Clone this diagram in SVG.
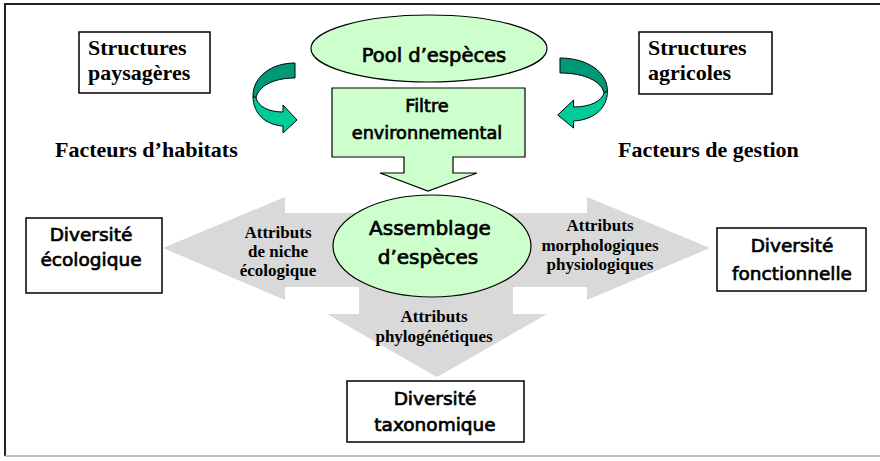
<svg xmlns="http://www.w3.org/2000/svg" width="880" height="461" viewBox="0 0 880 461">
<style>
.box{fill:#fff;stroke:#000;stroke-width:1.5}
.green{fill:#ccffcc;stroke:#000;stroke-width:1.2}
.cs{font-family:"DejaVu Sans","Noto Sans",sans-serif;fill:#000;stroke:#000;stroke-width:0.7;text-anchor:middle}
.tb{font-family:"Liberation Serif","Times New Roman",serif;font-weight:bold;fill:#000}
.lab{font-size:17px;text-anchor:middle}
.big{font-size:22px}
.dark{fill:#009977;stroke:#000;stroke-width:1}
.light{fill:#00cc99;stroke:#000;stroke-width:1}
</style>
<defs>
<g id="curl">
<path class="dark" d="M295,63 C271,63 253,77 253,96 L256,98 C258,87 272,78 295,78 Z" vector-effect="non-scaling-stroke"/>
<path class="light" d="M253,96 C253,114 266,125 283,126 L283,133 L297,120 L283,105 L283,112 C268,112 258,106 256,98 Z" vector-effect="non-scaling-stroke"/>
</g>
</defs>
<rect x="0" y="0" width="880" height="461" fill="#fff"/>
<g id="frame">
<line x1="4" y1="4" x2="880" y2="4" stroke="#222" stroke-width="2"/>
<line x1="5" y1="4" x2="5" y2="456" stroke="#222" stroke-width="2"/>
<line x1="5" y1="456" x2="880" y2="456" stroke="#aaa" stroke-width="1.5"/>
</g>
<g id="connectors">
<path id="gray-arrows" fill="#d9d9d9" d="M163,248 L285,197 L285,213 L587,213 L587,197 L710,248 L587,300 L587,287 L513,287 L513,314 L547,314 L437,377 L327,314 L359,314 L359,287 L285,287 L285,300 Z"/>
<use id="curl-left" href="#curl"/>
<use id="curl-right" href="#curl" transform="translate(893.35,-5) scale(-1.13,1)"/>
</g>
<g id="label-ecologique" class="tb lab">
<text x="278" y="238">Attributs</text>
<text x="278" y="257">de niche</text>
<text x="278" y="276">écologique</text>
</g>
<g id="label-fonctionnelle" class="tb lab">
<text x="600" y="231">Attributs</text>
<text x="600" y="251">morphologiques</text>
<text x="600" y="270">physiologiques</text>
</g>
<g id="label-taxonomique" class="tb lab">
<text x="434" y="322">Attributs</text>
<text x="434" y="342">phylogénétiques</text>
</g>
<g id="structures-paysageres">
<rect class="box" x="79" y="32" width="131" height="61"/>
<text class="tb big" x="88" y="55">Structures</text>
<text class="tb big" x="88" y="80">paysagères</text>
</g>
<g id="structures-agricoles">
<rect class="box" x="639" y="32" width="133" height="62"/>
<text class="tb big" x="648" y="55">Structures</text>
<text class="tb big" x="648" y="80">agricoles</text>
</g>
<g id="facteurs-habitats">
<text class="tb big" x="55" y="157">Facteurs d’habitats</text>
</g>
<g id="facteurs-gestion">
<text class="tb big" x="618" y="157">Facteurs de gestion</text>
</g>
<g id="pool">
<ellipse class="green" cx="429" cy="48.5" rx="118" ry="33.5"/>
<text class="cs" x="434" y="62" font-size="19.5">Pool  d’espèces</text>
</g>
<g id="filtre">
<path class="green" d="M332,88 L525,88 L525,157 L453,157 L453,173 L477,173 L428,191 L380,173 L404,173 L404,157 L332,157 Z"/>
<text class="cs" x="427" y="112" font-size="17.7">Filtre</text>
<text class="cs" x="427" y="139" font-size="17.7">environnemental</text>
</g>
<g id="assemblage">
<ellipse class="green" cx="432" cy="246" rx="99" ry="51"/>
<text class="cs" x="430" y="235" font-size="20">Assemblage</text>
<text class="cs" x="428" y="264" font-size="20">d’espèces</text>
</g>
<g id="diversite-ecologique">
<rect class="box" x="26" y="218" width="136" height="75"/>
<text class="cs" x="91" y="241" font-size="18.5">Diversité</text>
<text class="cs" x="91" y="266" font-size="18.5">écologique</text>
</g>
<g id="diversite-fonctionnelle">
<rect class="box" x="717" y="228" width="149" height="63"/>
<text class="cs" x="792" y="252" font-size="18.5">Diversité</text>
<text class="cs" x="792" y="280" font-size="18.5">fonctionnelle</text>
</g>
<g id="diversite-taxonomique">
<rect class="box" x="347" y="381" width="177" height="61"/>
<text class="cs" x="435" y="405" font-size="18.5">Diversité</text>
<text class="cs" x="435" y="431" font-size="18.5">taxonomique</text>
</g>
</svg>
